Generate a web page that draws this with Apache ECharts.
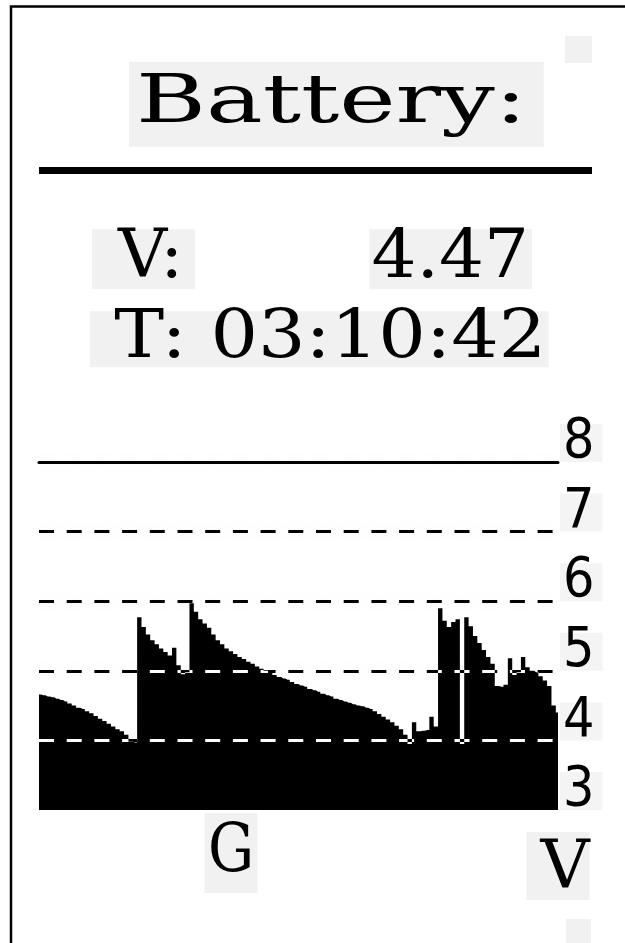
<!DOCTYPE html>
<html><head><meta charset="utf-8">
<script src="https://cdn.jsdelivr.net/npm/echarts@6/dist/echarts.min.js"></script>
<style>html,body{margin:0;padding:0;background:#fff}#c{width:625px;height:943px}</style>
</head><body><div id="c"></div>
<script>
// ---- texts ----
const title = 'Battery:';
const voltageLabel = 'V:';
const voltageReading = '4.47';
const timeReading = 'T: 03:10:42';
const xAxisTag = 'G';
const yAxisUnit = 'V';
// ---- axis ----
const yMin = 3, yMax = 8, yStep = 1;
// ---- series: battery voltage log (one value per display column) ----
const voltage = [
 4.66,4.65,4.63,4.62,4.60,4.58,4.56,4.53,4.50,4.47,
 4.45,4.42,4.39,4.35,4.31,4.28,4.24,4.20,4.16,4.13,
 4.08,3.98,3.97,5.77,5.63,5.52,5.44,5.38,5.32,5.27,
 5.22,5.33,5.08,4.95,4.98,5.97,5.85,5.74,5.68,5.62,
 5.52,5.44,5.38,5.32,5.28,5.24,5.20,5.17,5.13,5.10,
 5.06,5.03,5.00,4.97,4.94,4.91,4.89,4.87,4.84,4.81,
 4.79,4.77,4.74,4.72,4.70,4.67,4.65,4.63,4.60,4.58,
 4.56,4.54,4.52,4.50,4.49,4.47,4.45,4.42,4.38,4.34,
 4.30,4.26,4.21,4.16,4.08,3.95,4.26,4.13,4.14,4.15,
 4.34,4.20,5.90,5.72,5.63,5.70,5.74,3.95,5.77,5.64,
 5.50,5.40,5.30,5.20,5.10,4.78,4.77,4.80,5.18,4.94,
 4.98,5.20,5.05,5.00,4.98,4.92,4.86,4.78,4.50,4.40
];
const categories = voltage.map((_, i) => String(i + 1));

const SERIF = '"DejaVu Serif", "Liberation Serif", serif';
const LABELFONT = '"Liberation Sans Narrow", "DejaVu Sans Condensed", Roboto, sans-serif';
const GRAYBG = '#f1f1f1';
const DASH = [15, 12.7];
const GRID = { left: 39, right: 67, top: 462, bottom: 133 };

const chart = echarts.init(document.getElementById('c'), null, { renderer: 'canvas' });

function textEl(text, x, y, o) {
  return {
    type: 'text', x: x, y: y, scaleX: o.scaleX || 1, silent: true,
    style: {
      text: text, fill: '#000', fontFamily: SERIF, fontSize: 68,
      align: o.align || 'left', verticalAlign: 'middle',
      lineHeight: o.lineHeight || 60, backgroundColor: GRAYBG, padding: o.padding
    }
  };
}

const option = {
  animation: false,
  backgroundColor: '#fff',
  grid: Object.assign({ containLabel: false, outerBoundsMode: 'none' }, GRID),
  xAxis: {
    type: 'category', data: categories, position: 'top', boundaryGap: false,
    axisLine: { show: true, onZero: false, lineStyle: { color: '#000', width: 3 } },
    axisTick: { show: false }, axisLabel: { show: false }, splitLine: { show: false }
  },
  yAxis: {
    type: 'value', position: 'right', min: yMin, max: yMax, interval: yStep,
    axisLine: { show: false }, axisTick: { show: false },
    axisLabel: {
      show: true, margin: 2, color: '#000', fontFamily: LABELFONT, fontSize: 55,
      align: 'left', verticalAlign: 'bottom', lineHeight: 30,
      padding: [4, 8, 4, 3], backgroundColor: '#f4f4f4'
    },
    splitLine: {
      show: true, showMinLine: false,
      lineStyle: { color: '#000', width: 3, type: DASH, shadowColor: 'rgba(0,0,0,0.09)', shadowBlur: 16 }
    },
    name: yAxisUnit, nameLocation: 'start', nameGap: 22,
    nameTextStyle: {
      color: '#000', fontFamily: SERIF, fontSize: 68, lineHeight: 60,
      align: 'center', verticalAlign: 'top', padding: [8, 0, 0, 14], backgroundColor: GRAYBG
    }
  },
  series: [{
    type: 'line', data: voltage, step: 'middle', showSymbol: false, symbol: 'none',
    lineStyle: { color: '#000', width: 0 }, itemStyle: { color: '#000' },
    areaStyle: { color: '#000', opacity: 1, origin: 'start' }
  }],
  graphic: [
    { type: 'polyline', silent: true, shape: { points: [[11, 943], [11, 6.5], [625, 6.5]] },
      style: { stroke: '#000', lineWidth: 2.5, fill: null } },
    { type: 'rect', silent: true, shape: { x: 39, y: 167, width: 553, height: 7 }, style: { fill: '#000' } },
    { type: 'rect', silent: true, shape: { x: 565, y: 36, width: 27, height: 27 }, style: { fill: GRAYBG } },
    { type: 'rect', silent: true, shape: { x: 566, y: 919, width: 25, height: 24 }, style: { fill: GRAYBG } },
    textEl(title, 129, 104.3, { scaleX: 1.4, lineHeight: 69, padding: [2, 12, 14, 5] }),
    textEl(voltageLabel, 92, 259.3, { padding: [0, 12, 0, 26] }),
    textEl(voltageReading, 532, 259.3, { align: 'right', scaleX: 1.04, padding: [0, 3, 0, 2] }),
    textEl(timeReading, 90, 339.3, { scaleX: 1.1, lineHeight: 56, padding: [0, 2, 0, 22] }),
    textEl(xAxisTag, 231, 853, { align: 'center', scaleX: 0.85, padding: [19, 4, 1, 4] })
  ]
};
chart.setOption(option);

// Inverted (white) dashes where the grid lines cross the filled area:
// build a fill pattern whose dash rows come from the y axis scale.
(function () {
  const W = chart.getWidth(), H = chart.getHeight();
  const cv = document.createElement('canvas');
  cv.width = W; cv.height = H;
  const ctx = cv.getContext('2d');
  ctx.fillStyle = '#000';
  ctx.fillRect(0, 0, W, H);
  ctx.strokeStyle = '#fff';
  ctx.lineWidth = 3;
  ctx.setLineDash(DASH);
  const x0 = GRID.left, x1 = W - GRID.right;
  for (let v = yMin + yStep; v < yMax; v += yStep) {
    const y = Math.round(chart.convertToPixel({ yAxisIndex: 0 }, v)) + 0.5;
    ctx.beginPath(); ctx.moveTo(x0, y); ctx.lineTo(x1, y); ctx.stroke();
  }
  chart.setOption({ series: [{ areaStyle: { color: { image: cv, repeat: 'no-repeat' } } }] });
})();
</script>
</body></html>
